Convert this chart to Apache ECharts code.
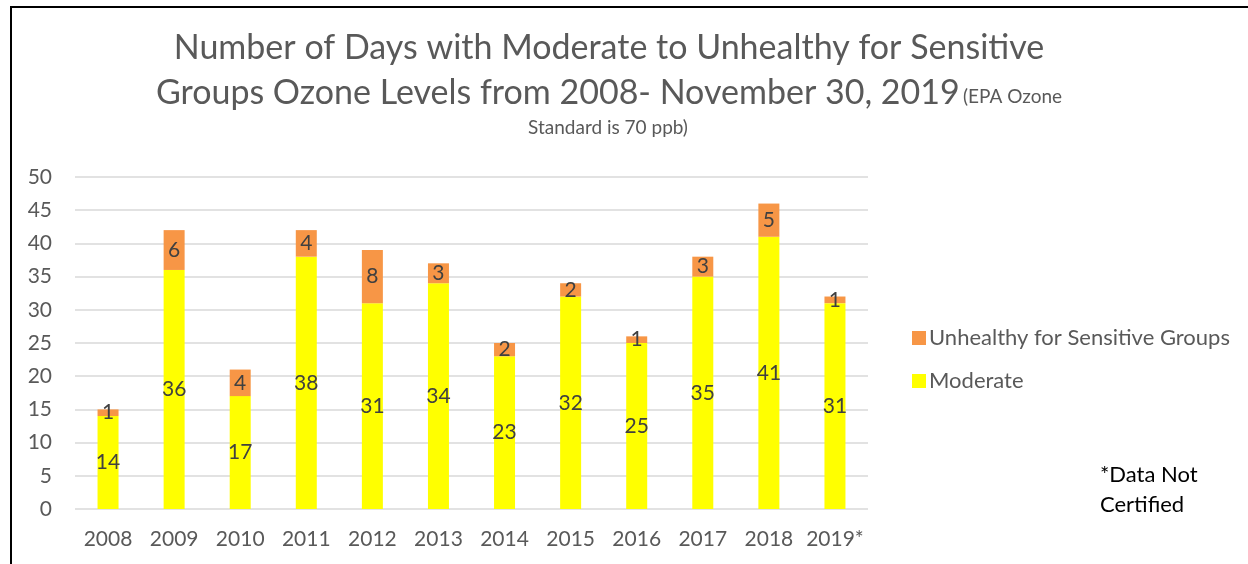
<!DOCTYPE html>
<html>
<head>
<meta charset="utf-8">
<script src="https://cdn.jsdelivr.net/npm/echarts@6/dist/echarts.min.js"></script>
<style>
  html, body { margin: 0; padding: 0; background: #fff; }
  #chart { width: 1248px; height: 564px; }
</style>
</head>
<body>
<div id="chart"></div>
<script>
// categories and values
var years = ['2008', '2009', '2010', '2011', '2012', '2013', '2014', '2015', '2016', '2017', '2018', '2019*'];
var moderate = [14, 36, 17, 38, 31, 34, 23, 32, 25, 35, 41, 31];
var unhealthy = [1, 6, 4, 4, 8, 3, 2, 2, 1, 3, 5, 1];
var yTicks = [0, 5, 10, 15, 20, 25, 30, 35, 40, 45, 50];

var FONT = 'Lato, "Open Sans", sans-serif';
var chart = echarts.init(document.getElementById('chart'));

var labelStyle = {
    show: true,
    position: 'inside',
    color: '#404040',
    fontSize: 21,
    fontFamily: FONT
};

chart.setOption({
    animation: false,
    textStyle: { fontFamily: FONT },
    grid: { left: 75, right: 380, top: 177, bottom: 55 },
    legend: {
        orient: 'vertical',
        left: 907,
        top: 322,
        itemGap: 21,
        itemWidth: 14,
        itemHeight: 14,
        icon: 'rect',
        textStyle: { color: '#595959', fontSize: 22, fontFamily: FONT, padding: [0, 0, 0, -2] },
        data: ['Unhealthy for Sensitive Groups', 'Moderate']
    },
    xAxis: {
        type: 'category',
        data: years,
        axisLine: { show: false },
        axisTick: { show: false },
        axisLabel: { color: '#595959', fontSize: 21, margin: 20, interval: 0, fontFamily: FONT }
    },
    yAxis: {
        type: 'value',
        min: 0,
        max: 50,
        interval: 5,
        axisLine: { show: false },
        axisTick: { show: false },
        splitLine: { lineStyle: { color: '#D9D9D9', width: 1.5 } },
        axisLabel: {
            color: '#595959', fontSize: 21, margin: 23, fontFamily: FONT,
            formatter: function (v) { return yTicks.indexOf(v) >= 0 ? String(v) : ''; }
        }
    },
    series: [{
        name: 'Moderate',
        type: 'bar',
        stack: 'days',
        barWidth: 21,
        itemStyle: { color: '#FFFF00' },
        label: labelStyle,
        data: moderate
    }, {
        name: 'Unhealthy for Sensitive Groups',
        type: 'bar',
        stack: 'days',
        barWidth: 21,
        itemStyle: { color: '#F79646' },
        label: labelStyle,
        data: unhealthy
    }],
    graphic: [{
        type: 'polyline',
        shape: { points: [[11, 564], [11, 7], [1248, 7]] },
        style: { stroke: '#000', lineWidth: 2, fill: null }
    }, {
        type: 'text',
        x: 609, y: 48,
        style: {
            text: 'Number of Days with Moderate to Unhealthy for Sensitive',
            fill: '#595959', fontSize: 34, fontFamily: FONT,
            align: 'center', verticalAlign: 'middle'
        }
    }, {
        type: 'text',
        x: 609, y: 93,
        style: {
            text: '{a|Groups Ozone Levels from 2008- November 30, 2019} {b|(EPA Ozone}',
            align: 'center', verticalAlign: 'middle',
            rich: {
                a: { fill: '#595959', fontSize: 34, fontFamily: FONT },
                b: { fill: '#595959', fontSize: 19, fontFamily: FONT, padding: [7, 0, 0, 0] }
            }
        }
    }, {
        type: 'text',
        x: 608, y: 128,
        style: {
            text: 'Standard is 70 ppb)',
            fill: '#595959', fontSize: 19, fontFamily: FONT,
            align: 'center', verticalAlign: 'middle'
        }
    }, {
        type: 'text',
        x: 1100, y: 490,
        style: {
            text: '*Data Not\nCertified',
            fill: '#000', fontSize: 22, fontFamily: FONT, lineHeight: 30,
            align: 'left', verticalAlign: 'middle'
        }
    }]
});
</script>
</body>
</html>
